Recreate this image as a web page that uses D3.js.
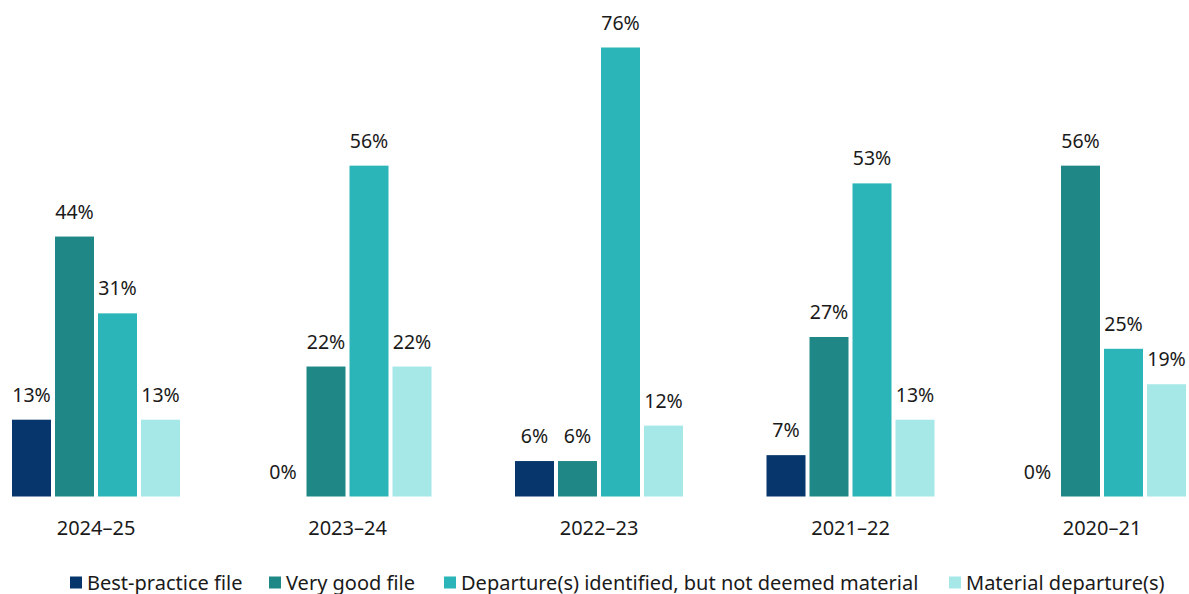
<!DOCTYPE html>
<html>
<head>
<meta charset="utf-8">
<script src="https://cdn.jsdelivr.net/npm/d3@7"></script>
<style>
  body { margin: 0; background: #fff; }
  svg { display: block; font-family: "Noto Sans", "Open Sans", sans-serif; }
</style>
</head>
<body>
<svg id="chart" width="1189" height="594"></svg>
<script>
// data
const years = ["2024–25", "2023–24", "2022–23", "2021–22", "2020–21"];
const seriesNames = [
  "Best-practice file",
  "Very good file",
  "Departure(s) identified, but not deemed material",
  "Material departure(s)",
];
const bestPractice = [13, 0, 6, 7, 0];
const veryGood = [44, 22, 6, 27, 56];
const departureNotMaterial = [31, 56, 76, 53, 25];
const materialDeparture = [13, 22, 12, 13, 19];
const seriesValues = [bestPractice, veryGood, departureNotMaterial, materialDeparture];
const colours = ["#06366b", "#1f8785", "#2bb5b8", "#a6e8e8"];

// layout
const baseline = 496.5;
const topY = 47.5;
const textColour = "#1a1a1a";
const legendX = [70, 269, 444, 949];

const svg = d3.select("#chart");

const x0 = d3.scaleBand()
  .domain(years)
  .range([12, 1186])
  .paddingInner(0.332)
  .paddingOuter(0);

const x1 = d3.scaleBand()
  .domain(d3.range(seriesNames.length))
  .range([0, x0.bandwidth()])
  .paddingInner(0.093)
  .paddingOuter(0);

const y = d3.scaleLinear()
  .domain([0, 76])
  .range([baseline, topY]);

const groups = svg.selectAll("g.group")
  .data(years)
  .enter()
  .append("g")
  .attr("class", "group")
  .attr("transform", d => `translate(${x0(d)},0)`);

groups.each(function(year, gi) {
  const g = d3.select(this);
  seriesValues.forEach((vals, si) => {
    const v = vals[gi];
    if (v > 0) {
      g.append("rect")
        .attr("x", x1(si))
        .attr("y", y(v))
        .attr("width", x1.bandwidth())
        .attr("height", baseline - y(v))
        .attr("fill", colours[si]);
    }
    g.append("text")
      .attr("x", x1(si) + x1.bandwidth() / 2)
      .attr("y", y(v) - 18)
      .attr("text-anchor", "middle")
      .attr("font-size", 19.5)
      .attr("fill", textColour)
      .text(`${v}%`);
  });
});

// category labels
const xAxis = d3.axisBottom(x0).tickSize(0).tickPadding(0);
const axisG = svg.append("g")
  .attr("transform", `translate(0,${baseline})`)
  .call(xAxis);
axisG.select(".domain").remove();
axisG.selectAll("text")
  .attr("y", 38)
  .attr("dy", 0)
  .attr("font-size", 20)
  .attr("font-family", "\"Noto Sans\", \"Open Sans\", sans-serif")
  .attr("fill", textColour);

// legend
const sw = 12;
const legend = svg.append("g")
  .attr("class", "legend")
  .attr("transform", "translate(0,582.5)");
const items = legend.selectAll("g.item")
  .data(seriesNames)
  .enter()
  .append("g")
  .attr("class", "item")
  .attr("transform", (d, i) => `translate(${legendX[i]},0)`);
items.append("rect")
  .attr("width", sw)
  .attr("height", sw)
  .attr("y", -sw / 2)
  .attr("fill", (d, i) => colours[i]);
items.append("text")
  .attr("x", sw + 5)
  .attr("y", 0)
  .attr("dy", "0.35em")
  .attr("font-size", 20)
  .attr("fill", textColour)
  .text(d => d);
</script>
</body>
</html>
